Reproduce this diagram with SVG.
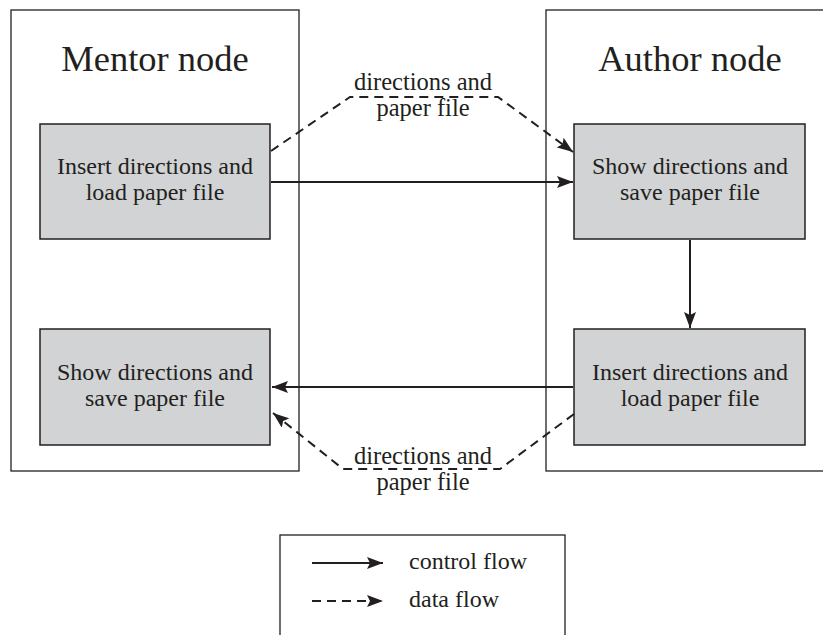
<svg xmlns="http://www.w3.org/2000/svg" width="823" height="635" viewBox="0 0 823 635">
<defs>
<style>
.outer{fill:#fff;stroke:#231f20;stroke-width:1.3}
.box{fill:#d1d3d4;stroke:#231f20;stroke-width:1.5}
.t{fill:#231f20;text-anchor:middle}
.title{font-size:36.5px}
.lbl{font-size:24px}
.lbl2{font-size:24.5px}
.leg{fill:#231f20;font-size:24px}
.ctl{fill:none;stroke:#231f20;stroke-width:2}
.dat{fill:none;stroke:#231f20;stroke-width:2;stroke-dasharray:9,6}
</style>
<marker id="ah" viewBox="0 0 16 12" refX="16" refY="6" markerWidth="16" markerHeight="12" markerUnits="userSpaceOnUse" orient="auto">
<path d="M0,0 L16,6 L0,12 L3,6 Z" fill="#231f20"/>
</marker>
</defs>
<rect width="823" height="635" fill="#fff"/>
<g font-family="Liberation Serif, Tinos, DejaVu Serif, serif">
<g id="mentor-node">
<rect class="outer" x="11" y="10" width="288" height="461"/>
<text class="t title" x="155" y="71">Mentor node</text>
</g>
<g id="author-node">
<rect class="outer" x="546" y="10" width="300" height="461"/>
<text class="t title" x="690" y="71">Author node</text>
</g>
<g id="mentor-insert">
<rect class="box" x="40" y="124" width="230" height="115"/>
<text class="t lbl" x="155" y="174">Insert directions and</text>
<text class="t lbl" x="155" y="200">load paper file</text>
</g>
<g id="author-show">
<rect class="box" x="574" y="124" width="231" height="115"/>
<text class="t lbl" x="690" y="174">Show directions and</text>
<text class="t lbl" x="690" y="200">save paper file</text>
</g>
<g id="mentor-show">
<rect class="box" x="40" y="329" width="230" height="116"/>
<text class="t lbl" x="155" y="380">Show directions and</text>
<text class="t lbl" x="155" y="406">save paper file</text>
</g>
<g id="author-insert">
<rect class="box" x="574" y="329" width="231" height="116"/>
<text class="t lbl" x="690" y="380">Insert directions and</text>
<text class="t lbl" x="690" y="406">load paper file</text>
</g>
<g id="connectors">
<line class="ctl" x1="271" y1="182" x2="573" y2="182" marker-end="url(#ah)"/>
<line class="ctl" x1="690" y1="240" x2="690" y2="328" marker-end="url(#ah)"/>
<line class="ctl" x1="573" y1="387" x2="272" y2="387" marker-end="url(#ah)"/>
<polyline class="dat" points="271,151 350,97 498,97 573,152" marker-end="url(#ah)"/>
<polyline class="dat" points="574,414 500,469 343,469 273,413" marker-end="url(#ah)"/>
<text class="t lbl2" x="423" y="90">directions and</text>
<text class="t lbl2" x="423" y="116">paper file</text>
<text class="t lbl2" x="423" y="464">directions and</text>
<text class="t lbl2" x="423" y="490">paper file</text>
</g>
<g id="legend">
<rect class="outer" x="280" y="535" width="285" height="120"/>
<line class="ctl" x1="312" y1="563" x2="383" y2="563" marker-end="url(#ah)"/>
<line class="dat" x1="312" y1="601" x2="383" y2="601" stroke-dasharray="8,5" marker-end="url(#ah)"/>
<text class="leg" x="409" y="569">control flow</text>
<text class="leg" x="409" y="607">data flow</text>
</g>
</g>
</svg>
